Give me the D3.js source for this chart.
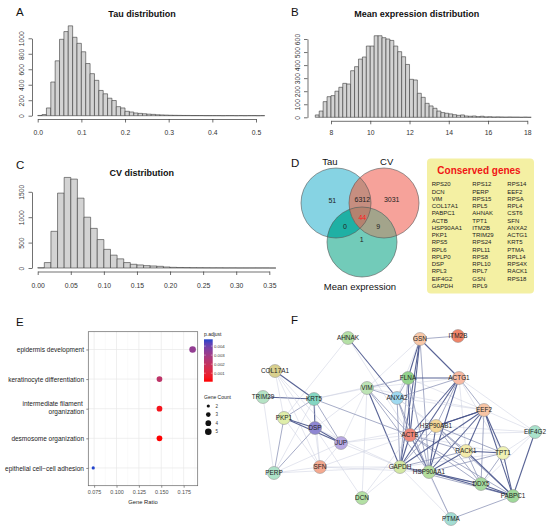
<!DOCTYPE html>
<html>
<head>
<meta charset="utf-8">
<script src="https://cdn.jsdelivr.net/npm/d3@7"></script>
<style>
  body { margin: 0; background: #fff; }
  text { font-family: "Liberation Sans", Arial, sans-serif; }
</style>
</head>
<body>
<svg width="550" height="530"></svg>
<script>
// ---- data ----
const tauBinStart = 0, tauBinWidth = 0.01;
const tauCounts = [3, 15, 100, 435, 709, 987, 1087, 1161, 1013, 935, 826, 674, 543, 457, 326, 283, 226, 196,
  117, 100, 57, 48, 35, 30, 25, 20, 17, 12, 10, 8, 6, 5, 4, 3, 3, 2, 2, 2, 1, 1, 1, 1, 0, 1, 1, 0, 1, 0, 1, 1, 0, 1];

const meanBinStart = 7.2, meanBinWidth = 0.2;
const meanCounts = [18, 48, 120, 158, 166, 200, 230, 260, 255, 357, 388, 446, 462, 546, 546, 625, 625, 610, 600,
  589, 546, 503, 464, 405, 291, 286, 184, 153, 107, 87, 69, 48, 36, 31, 26, 20, 15, 18, 10, 8, 10, 5, 8, 3, 4,
  2, 3, 2, 1, 2, 1, 1, 0, 1, 0];

const cvBinStart = 0, cvBinWidth = 0.01;
const cvCounts = [5, 107, 722, 1474, 1783, 1750, 1375, 1000, 780, 560, 367, 253, 180, 107, 73, 60, 47, 40, 33,
  20, 13, 10, 8, 6, 5, 4, 3, 3, 2, 2, 1, 1, 1, 1, 1, 0];

const tauXTicks = [0, 0.1, 0.2, 0.3, 0.4, 0.5];
const tauYTicks = [0, 200, 400, 600, 800, 1000];
const meanXTicks = [8, 10, 12, 14, 16, 18];
const meanYTicks = [0, 100, 200, 300, 400, 500, 600];
const cvXTicks = [0, 0.05, 0.1, 0.15, 0.2, 0.25, 0.3, 0.35];
const cvYTicks = [0, 500, 1000, 1500];

const vennSets = ["Tau", "CV", "Mean expression"];
// only Tau, only CV, only Mean, Tau&CV, Tau&Mean, CV&Mean, all three
const vennCounts = [51, 3031, 1, 6312, 0, 9, 44];

const conservedGenes = ["RPS20", "DCN", "VIM", "COL17A1", "PABPC1", "ACTB", "HSP90AA1", "PKP1", "RPS5", "RPL6",
  "RPLP0", "DSP", "RPL3", "EIF4G2", "GAPDH",
  "RPS12", "PERP", "RPS15", "RPL5", "AHNAK", "TPT1", "ITM2B", "TRIM29", "RPS24", "RPL11", "RPS8", "RPL10",
  "RPL7", "GSN", "RPL9",
  "RPS14", "EEF2", "RPSA", "RPL4", "CST6", "SFN", "ANXA2", "ACTG1", "KRT5", "PTMA", "RPL14", "RPS4X", "RACK1",
  "RPS18"];

const goTerms = ["epidermis development", "keratinocyte differentiation",
  "intermediate filament organization", "desmosome organization", "epithelial cell\u2212cell adhesion"];
const goRatio = [0.185, 0.148, 0.148, 0.148, 0.074];
const goCount = [5, 4, 4, 4, 2];
const goPadj = [0.0033, 0.0022, 0.0004, 0.00006, 0.00475];
const ratioTicks = [0.075, 0.1, 0.125, 0.15, 0.175];
const padjTicks = [0.001, 0.002, 0.003, 0.004];
const countTicks = [2, 3, 4, 5];

const nodeNames = ["AHNAK", "GSN", "ITM2B", "COL17A1", "FLNA", "ACTG1", "VIM", "TRIM29", "ANXA2", "KRT5",
  "EEF2", "PKP1", "DSP", "HSP90AB1", "EIF4G2", "ACTB", "JUP", "RACK1", "TPT1", "SFN", "GAPDH", "HSP90AA1",
  "PERP", "DDX5", "PABPC1", "DCN", "PTMA"];
const nodeX = [98, 170, 208, 25, 158, 209, 117, 13, 147, 64, 234, 34, 65, 186, 285, 160, 91, 216, 253, 70, 150,
  179, 24, 231, 263, 112, 201];
const nodeY = [18, 19, 16, 51, 58, 58, 68, 77, 78, 79, 90, 98, 108, 106, 112, 115, 123, 131, 133, 147, 147, 152,
  153, 164, 176, 178, 199];
const edges = [
  ["GSN","ITM2B",2],["GSN","FLNA",3],["GSN","ACTG1",3],["GSN","ACTB",3],["GSN","VIM",1],["GSN","GAPDH",3],
  ["GSN","ANXA2",1],["GSN","HSP90AA1",2],["AHNAK","ANXA2",3],["AHNAK","PKP1",1],["AHNAK","ACTB",1],
  ["FLNA","ACTG1",3],["FLNA","VIM",2],["FLNA","ACTB",3],["FLNA","ANXA2",2],["FLNA","HSP90AA1",2],
  ["FLNA","GAPDH",2],["FLNA","EEF2",1],["FLNA","KRT5",1],["ACTG1","EEF2",2],["ACTG1","ACTB",3],
  ["ACTG1","GAPDH",3],["ACTG1","HSP90AA1",3],["ACTG1","EIF4G2",1],["ACTG1","TPT1",1],["ACTG1","VIM",1],
  ["ACTG1","ANXA2",2],["ACTG1","RACK1",1],["ACTG1","HSP90AB1",2],["VIM","KRT5",1],["VIM","ANXA2",2],
  ["VIM","ACTB",2],["VIM","GAPDH",3],["VIM","HSP90AA1",2],["VIM","DSP",1],["VIM","JUP",1],["VIM","DCN",1],
  ["VIM","EEF2",1],["ANXA2","ACTB",2],["ANXA2","GAPDH",2],["ANXA2","HSP90AA1",2],["ANXA2","EEF2",1],
  ["ANXA2","HSP90AB1",1],["ANXA2","RACK1",1],["KRT5","DSP",3],["KRT5","PKP1",2],["KRT5","JUP",2],
  ["KRT5","COL17A1",3],["KRT5","TRIM29",3],["KRT5","SFN",1],["KRT5","PERP",1],["KRT5","ACTB",2],
  ["COL17A1","PKP1",1],["COL17A1","DSP",1],["COL17A1","JUP",1],["COL17A1","SFN",1],["TRIM29","PERP",1],
  ["PKP1","DSP",3],["PKP1","JUP",3],["PKP1","PERP",2],["PKP1","SFN",1],["DSP","JUP",3],["DSP","PERP",2],
  ["DSP","SFN",1],["DSP","GAPDH",1],["DSP","DCN",1],["JUP","PERP",1],["JUP","SFN",1],["JUP","ACTB",1],
  ["JUP","GAPDH",1],["JUP","HSP90AB1",1],["SFN","HSP90AA1",1],["SFN","ACTB",1],["PERP","GAPDH",1],
  ["PERP","SFN",1],["ACTB","GAPDH",3],["ACTB","HSP90AA1",3],["ACTB","HSP90AB1",2],["ACTB","EEF2",3],
  ["ACTB","RACK1",2],["ACTB","TPT1",1],["ACTB","DDX5",2],["ACTB","PABPC1",2],["ACTB","PTMA",1],
  ["ACTB","EIF4G2",1],["ACTB","DCN",1],["GAPDH","HSP90AA1",3],["GAPDH","HSP90AB1",2],["GAPDH","EEF2",3],
  ["GAPDH","RACK1",2],["GAPDH","TPT1",1],["GAPDH","DDX5",2],["GAPDH","PABPC1",2],["GAPDH","PTMA",1],
  ["GAPDH","DCN",1],["GAPDH","SFN",1],["HSP90AA1","HSP90AB1",3],["HSP90AA1","EEF2",3],["HSP90AA1","RACK1",3],
  ["HSP90AA1","TPT1",2],["HSP90AA1","DDX5",3],["HSP90AA1","PABPC1",3],["HSP90AA1","PTMA",2],
  ["HSP90AB1","EEF2",3],["HSP90AB1","RACK1",2],["HSP90AB1","TPT1",2],["HSP90AB1","DDX5",2],
  ["HSP90AB1","PABPC1",2],["HSP90AB1","EIF4G2",1],["EEF2","RACK1",3],["EEF2","TPT1",3],["EEF2","DDX5",2],
  ["EEF2","PABPC1",3],["EEF2","EIF4G2",1],["EIF4G2","PABPC1",3],["EIF4G2","TPT1",1],["EIF4G2","DDX5",1],
  ["RACK1","TPT1",3],["RACK1","DDX5",2],["RACK1","PABPC1",3],["TPT1","PABPC1",3],["TPT1","DDX5",2],
  ["DDX5","PABPC1",3],["PTMA","PABPC1",2]
];

// ---- styles ----
const nodeColors = {
  AHNAK: "#b5e0a6", GSN: "#f9c8a8", ITM2B: "#ef8468", COL17A1: "#d9d08e", FLNA: "#93d48d", ACTG1: "#f8b9a2",
  VIM: "#bde4b5", TRIM29: "#b5e3c5", ANXA2: "#9fd9f0", KRT5: "#84d6c2", EEF2: "#f8c5a5", PKP1: "#dfeeaa",
  DSP: "#8e86d2", HSP90AB1: "#f4d796", EIF4G2: "#a9e2cb", ACTB: "#f0877a", JUP: "#b8a9e3", RACK1: "#f3ebab",
  TPT1: "#eff2b4", SFN: "#f5a98f", GAPDH: "#d3e8a3", HSP90AA1: "#b4dd9c", PERP: "#aee2c9", DDX5: "#a4da9d",
  PABPC1: "#9fd99a", DCN: "#b3e0a4", PTMA: "#a3ddd3"
};
const FONT = "Liberation Sans, Arial, sans-serif";
const AX = "#333";

const svg = d3.select("svg");
svg.append("rect").attr("width", 550).attr("height", 530).attr("fill", "#fff");

// panel letters
[["A", 16, 16], ["B", 291, 16], ["C", 16, 169], ["D", 291, 167], ["E", 16, 326], ["F", 291, 324]]
  .forEach(([t, x, y]) => svg.append("text").attr("x", x).attr("y", y).text(t)
    .style("font-size", "11.5px").attr("fill", "#111"));

// ---- histograms (A, B, C) ----
function histogram(o) {
  const g = svg.append("g");
  // paths rather than rects so that empty bins still show as a line on the baseline
  g.selectAll("path.bar").data(o.counts).join("path").attr("class", "bar")
    .attr("d", (d, i) => {
      const x0 = o.x(o.start + i * o.width), x1 = o.x(o.start + (i + 1) * o.width);
      return `M${x0},${o.y(0)}V${o.y(d)}H${x1}V${o.y(0)}Z`;
    })
    .attr("fill", "#d3d3d3").attr("stroke", "#3a3a3a").attr("stroke-width", 0.6);

  const xa = g.append("g").attr("transform", `translate(0,${o.xAxisY})`)
    .call(d3.axisBottom(o.x).tickValues(o.xTicks).tickFormat(o.xFormat).tickSize(3.5).tickSizeOuter(0));
  xa.selectAll(".tick text").attr("y", o.labelY - o.xAxisY + 2.4).attr("dy", 0);

  const ya = g.append("g").attr("transform", `translate(${o.yAxisX},0)`)
    .call(d3.axisLeft(o.y).tickValues(o.yTicks).tickFormat(d3.format("d")).tickSize(3.5).tickSizeOuter(0));
  ya.selectAll(".tick text").attr("transform", "rotate(-90)")
    .attr("x", 0).attr("y", -8).attr("dy", 0).attr("text-anchor", "middle");

  [xa, ya].forEach(a => {
    a.attr("font-family", FONT).attr("font-size", null);
    a.select(".domain").attr("stroke", AX).attr("stroke-width", 0.7);
    a.selectAll(".tick line").attr("stroke", AX).attr("stroke-width", 0.7);
    a.selectAll(".tick text").attr("fill", AX).style("font-size", "6.8px");
  });

  g.append("text").attr("x", o.titleX).attr("y", o.titleY).attr("text-anchor", "middle")
    .style("font-size", "9px").style("font-weight", "bold").attr("fill", "#111").text(o.title);
}

histogram({
  counts: tauCounts, start: tauBinStart, width: tauBinWidth,
  x: d3.scaleLinear().domain([0, 0.5]).range([37.7, 256]),
  y: d3.scaleLinear().domain([0, 1000]).range([115.7, 38.3]),
  xTicks: tauXTicks, yTicks: tauYTicks, xFormat: d3.format(".1f"),
  xAxisY: 119, labelY: 133, yAxisX: 32,
  title: "Tau distribution", titleX: 142, titleY: 17
});
histogram({
  counts: meanCounts, start: meanBinStart, width: meanBinWidth,
  x: d3.scaleLinear().domain([8, 18]).range([331, 527.3]),
  y: d3.scaleLinear().domain([0, 600]).range([117.3, 39]),
  xTicks: meanXTicks, yTicks: meanYTicks, xFormat: d3.format("d"),
  xAxisY: 120.8, labelY: 133, yAxisX: 307.5,
  title: "Mean expression distribution", titleX: 416.7, titleY: 17
});
histogram({
  counts: cvCounts, start: cvBinStart, width: cvBinWidth,
  x: d3.scaleLinear().domain([0, 0.35]).range([37.7, 269.3]),
  y: d3.scaleLinear().domain([0, 1500]).range([268, 191.8]),
  xTicks: cvXTicks, yTicks: cvYTicks, xFormat: d3.format(".2f"),
  xAxisY: 271.5, labelY: 286, yAxisX: 32,
  title: "CV distribution", titleX: 141.7, titleY: 175.5
});

// ---- Venn (D) ----
const vr = 35;
const vc = [[336, 203], [384, 203], [362, 242]];       // circle centres: Tau, CV, Mean
const vennFill = ["#86d3e3", "#f6a29a", "#72cbb9"];
const defs = svg.append("defs");
vc.forEach((c, i) => defs.append("clipPath").attr("id", "vclip" + i)
  .append("circle").attr("cx", c[0]).attr("cy", c[1]).attr("r", vr));

const vg = svg.append("g");
vg.selectAll("circle.base").data(vc).join("circle").attr("class", "base")
  .attr("cx", d => d[0]).attr("cy", d => d[1]).attr("r", vr)
  .attr("fill", (d, i) => vennFill[i]);
// pairwise overlaps
[[1, 0, "#c68e80"], [2, 0, "#1fb0a4"], [2, 1, "#a3a48b"]].forEach(([a, b, col]) =>
  vg.append("circle").attr("cx", vc[a][0]).attr("cy", vc[a][1]).attr("r", vr)
    .attr("clip-path", `url(#vclip${b})`).attr("fill", col));
// triple overlap
vg.append("g").attr("clip-path", "url(#vclip0)")
  .append("circle").attr("cx", vc[2][0]).attr("cy", vc[2][1]).attr("r", vr)
  .attr("clip-path", "url(#vclip1)").attr("fill", "#b5826f");
vg.selectAll("circle.edge").data(vc).join("circle").attr("class", "edge")
  .attr("cx", d => d[0]).attr("cy", d => d[1]).attr("r", vr)
  .attr("fill", "none").attr("stroke", "#555").attr("stroke-width", 0.6);

const regionPos = [[332.3, 201], [391.7, 200], [361.7, 240], [362.3, 199.7], [345, 226.7], [378.3, 226.7], [362.3, 217.7]];
vg.selectAll("text.count").data(vennCounts).join("text").attr("class", "count")
  .attr("x", (d, i) => regionPos[i][0]).attr("y", (d, i) => regionPos[i][1] + 2.4)
  .attr("text-anchor", "middle").style("font-size", "7px")
  .attr("fill", (d, i) => i === 6 ? "#ff2020" : "#222").text(d => d);

const setPos = [[330, 165], [386.7, 165], [360, 290]];
vg.selectAll("text.set").data(vennSets).join("text").attr("class", "set")
  .attr("x", (d, i) => setPos[i][0]).attr("y", (d, i) => setPos[i][1])
  .attr("text-anchor", "middle").style("font-size", "9.5px").attr("fill", "#111").text(d => d);

// conserved genes box
const gg = svg.append("g");
gg.append("rect").attr("x", 427).attr("y", 158.5).attr("width", 107).attr("height", 135).attr("rx", 4)
  .attr("fill", "#f4f0a3");
gg.append("text").attr("x", 479).attr("y", 173.5).attr("text-anchor", "middle")
  .style("font-size", "10px").style("font-weight", "bold").attr("fill", "#f01515").text("Conserved genes");
const colX = [431.7, 472.3, 507.3];
gg.selectAll("text.gene").data(conservedGenes).join("text").attr("class", "gene")
  .attr("x", (d, i) => colX[Math.floor(i / 15)])
  .attr("y", (d, i) => 186.3 + (i % 15) * 7.25)
  .style("font-size", "6px").attr("fill", "#222").text(d => d);

// ---- GO dot plot (E) ----
const ex = d3.scaleLinear().domain([0.0685, 0.1907]).range([88.3, 197.7]);
const ey = d3.scalePoint().domain(goTerms).range([331.7, 485.7]).padding(0.6);
const pColor = d3.scaleLinear().domain([d3.min(goPadj), d3.max(goPadj)])
  .range(["#ff0000", "#2244cc"]).interpolate(d3.interpolateLab);
const rSize = d3.scaleRadial().domain([2, 5]).range([1.6, 3.3]);

const eg = svg.append("g");
eg.append("rect").attr("x", 88.3).attr("y", 331.7).attr("width", 109.4).attr("height", 154).attr("fill", "#fff");
const minor = ratioTicks.map(t => t + 0.0125);
eg.selectAll("line.minor").data(minor).join("line").attr("class", "minor")
  .attr("x1", d => ex(d)).attr("x2", d => ex(d)).attr("y1", 331.7).attr("y2", 485.7)
  .attr("stroke", "#f3f3f3").attr("stroke-width", 0.4);
eg.selectAll("line.vmajor").data(ratioTicks).join("line").attr("class", "vmajor")
  .attr("x1", d => ex(d)).attr("x2", d => ex(d)).attr("y1", 331.7).attr("y2", 485.7)
  .attr("stroke", "#e8e8e8").attr("stroke-width", 0.7);
eg.selectAll("line.hmajor").data(goTerms).join("line").attr("class", "hmajor")
  .attr("x1", 88.3).attr("x2", 197.7).attr("y1", d => ey(d)).attr("y2", d => ey(d))
  .attr("stroke", "#e8e8e8").attr("stroke-width", 0.7);
eg.selectAll("circle.dot").data(goTerms).join("circle").attr("class", "dot")
  .attr("cx", (d, i) => ex(goRatio[i])).attr("cy", d => ey(d))
  .attr("r", (d, i) => rSize(goCount[i])).attr("fill", (d, i) => pColor(goPadj[i]));
eg.append("rect").attr("x", 88.3).attr("y", 331.7).attr("width", 109.4).attr("height", 154)
  .attr("fill", "none").attr("stroke", "#666").attr("stroke-width", 0.7);

const exa = eg.append("g").attr("transform", "translate(0,485.7)")
  .call(d3.axisBottom(ex).tickValues(ratioTicks).tickFormat(d3.format(".3f")).tickSize(2).tickSizeOuter(0));
exa.select(".domain").remove();
exa.attr("font-family", FONT).attr("font-size", null);
exa.selectAll(".tick line").attr("stroke", "#444").attr("stroke-width", 0.6);
exa.selectAll(".tick text").attr("y", 4).attr("dy", "0.71em").attr("fill", "#4d4d4d").style("font-size", "5.4px");

const eya = eg.append("g").attr("transform", "translate(88.3,0)")
  .call(d3.axisLeft(ey).tickSize(2).tickSizeOuter(0));
eya.select(".domain").remove();
eya.attr("font-family", FONT).attr("font-size", null);
eya.selectAll(".tick line").attr("stroke", "#444").attr("stroke-width", 0.6);
eya.selectAll(".tick text").each(function (d) {
  const t = d3.select(this).text("").attr("fill", "#1a1a1a").style("font-size", "6.5px").attr("x", -4.3).attr("dy", 0);
  if (d.startsWith("intermediate")) {
    t.append("tspan").attr("x", -5.5).attr("y", -3.7).text("intermediate filament");
    t.append("tspan").attr("x", -4.3).attr("y", 4.7).text("organization");
  } else {
    t.attr("y", 2.3).text(d);
  }
});
eg.append("text").attr("x", 143).attr("y", 503.5).attr("text-anchor", "middle")
  .style("font-size", "5.8px").attr("fill", "#222").text("Gene Ratio");

// colour legend
const grad = defs.append("linearGradient").attr("id", "pgrad")
  .attr("x1", 0).attr("y1", 1).attr("x2", 0).attr("y2", 0);
d3.range(0, 1.0001, 0.1).forEach(t => grad.append("stop").attr("offset", t)
  .attr("stop-color", pColor(d3.min(goPadj) + t * (d3.max(goPadj) - d3.min(goPadj)))));
const pl = d3.scaleLinear().domain([d3.min(goPadj), d3.max(goPadj)]).range([381.7, 339.3]);
eg.append("text").attr("x", 204).attr("y", 335.5).style("font-size", "5px").attr("fill", "#222").text("p.adjust");
eg.append("rect").attr("x", 204).attr("y", 339.3).attr("width", 8.7).attr("height", 42.4).attr("fill", "url(#pgrad)");
eg.selectAll("line.ptick").data(padjTicks).join("line").attr("class", "ptick")
  .attr("x1", 204).attr("x2", 205.8).attr("y1", d => pl(d)).attr("y2", d => pl(d))
  .attr("stroke", "#fff").attr("stroke-width", 0.4);
eg.selectAll("line.ptick2").data(padjTicks).join("line").attr("class", "ptick2")
  .attr("x1", 210.9).attr("x2", 212.7).attr("y1", d => pl(d)).attr("y2", d => pl(d))
  .attr("stroke", "#fff").attr("stroke-width", 0.4);
eg.selectAll("text.plab").data(padjTicks).join("text").attr("class", "plab")
  .attr("x", 214).attr("y", d => pl(d) + 1.5).style("font-size", "4.3px").attr("fill", "#333")
  .text(d3.format(".3f"));

// size legend
eg.append("text").attr("x", 204).attr("y", 398.5).style("font-size", "5px").attr("fill", "#222").text("Gene Count");
const sl = d3.scalePoint().domain(countTicks).range([406, 431.7]);
eg.selectAll("circle.sz").data(countTicks).join("circle").attr("class", "sz")
  .attr("cx", 208.3).attr("cy", d => sl(d)).attr("r", d => rSize(d)).attr("fill", "#111");
eg.selectAll("text.szl").data(countTicks).join("text").attr("class", "szl")
  .attr("x", 215.5).attr("y", d => sl(d) + 1.6).style("font-size", "4.5px").attr("fill", "#333").text(d => d);

// ---- PPI network (F) ----
const fx = d3.scaleLinear().domain([0, 300]).range([250, 550]);
const fy = d3.scaleLinear().domain([0, 210]).range([320, 530]);
const nodes = nodeNames.map((n, i) => ({ name: n, x: fx(nodeX[i]), y: fy(nodeY[i]) }));
const byName = new Map(nodes.map(n => [n.name, n]));
const edgeColor = d3.scaleLinear().domain([1, 3]).range(["#c8ccde", "#46528a"]);
const edgeWidth = d3.scaleLinear().domain([1, 3]).range([0.55, 1.1]);

const fg = svg.append("g");
fg.selectAll("line").data(edges).join("line")
  .attr("x1", d => byName.get(d[0]).x).attr("y1", d => byName.get(d[0]).y)
  .attr("x2", d => byName.get(d[1]).x).attr("y2", d => byName.get(d[1]).y)
  .attr("stroke", d => edgeColor(d[2])).attr("stroke-width", d => edgeWidth(d[2]))
  .attr("stroke-opacity", 0.9);
fg.selectAll("circle").data(nodes).join("circle")
  .attr("cx", d => d.x).attr("cy", d => d.y).attr("r", 6.5)
  .attr("fill", d => nodeColors[d.name]).attr("stroke", "#8a8a8a").attr("stroke-width", 0.5);
fg.selectAll("text").data(nodes).join("text")
  .attr("x", d => d.x).attr("y", d => d.y + 2.2).attr("text-anchor", "middle")
  .style("font-size", "6.4px").attr("fill", "#222").text(d => d.name);
</script>
</body>
</html>
